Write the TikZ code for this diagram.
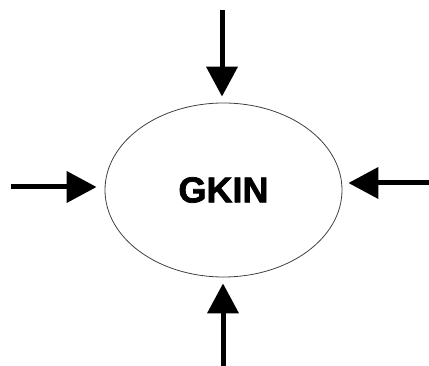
\documentclass[tikz,border=0pt]{standalone}
\usepackage{fontspec}
\setmainfont{Liberation Sans}
\newfontfamily\heavyfont{Liberation Sans}[BoldFeatures={FakeBold=2}]
\usetikzlibrary{arrows.meta,shapes.geometric}
\begin{document}
\begin{tikzpicture}[x=0.75pt, y=-0.75pt,
  inarrow/.style={line width=3.75pt, -{Triangle[length=22.5pt, width=23pt]}},
  blob/.style={draw, ellipse, line width=0.6pt, color=black!75, text=black,
    minimum width=177.75pt, minimum height=130.5pt, inner sep=0pt}]
  \useasboundingbox (0,0) rectangle (429,366);
  \node[blob] (gkin) at (223.5,190) {\heavyfont\fontsize{27}{30}\selectfont\bfseries GKIN};
  \coordinate (topin) at (222,10);
  \coordinate (leftin) at (11,187);
  \coordinate (rightin) at (429,183);
  \coordinate (bottomin) at (223,366);
  \draw[inarrow, shorten >=4.5pt] (topin) -- (topin |- gkin.north);
  \draw[inarrow, shorten >=6pt] (leftin) -- (leftin -| gkin.west);
  \draw[inarrow, shorten >=4.5pt] (rightin) -- (rightin -| gkin.east);
  \draw[inarrow, shorten >=4.5pt] (bottomin) -- (bottomin |- gkin.south);
\end{tikzpicture}
\end{document}
